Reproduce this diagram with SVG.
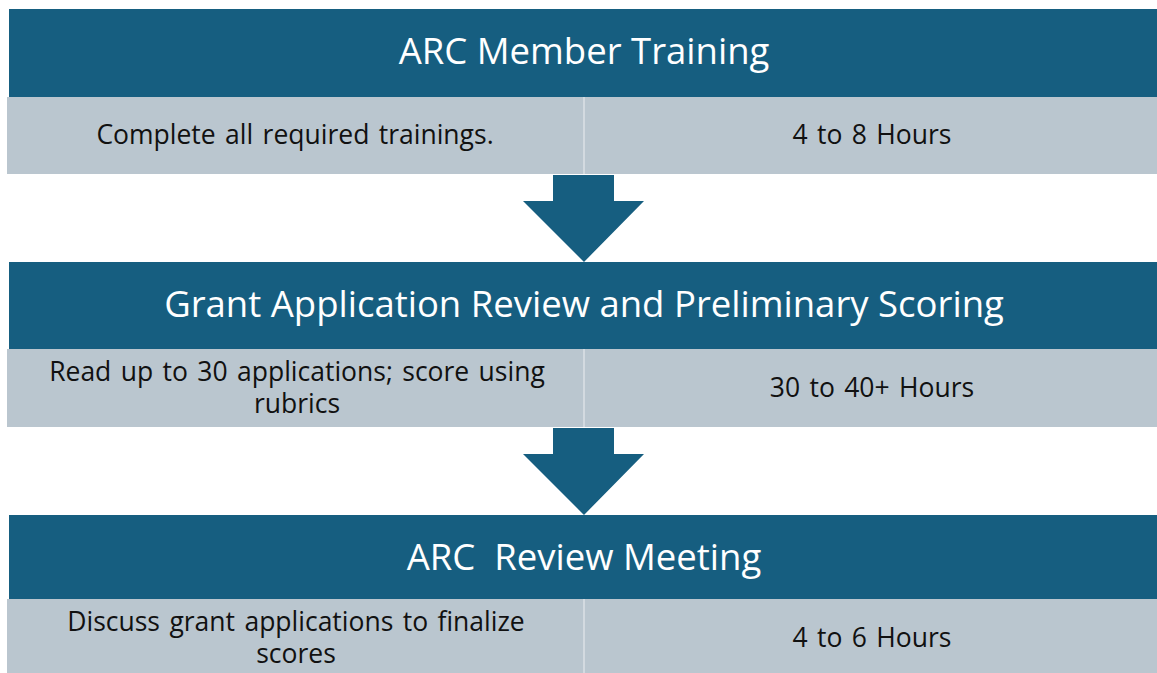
<svg xmlns="http://www.w3.org/2000/svg" width="1157" height="673" viewBox="0 0 1157 673">
<style>
.hdr{fill:#165E80}
.row{fill:#BAC6CF}
.div{stroke:#D3DAE0;stroke-width:2}
.arrow{fill:#165E80}
.ht{font-family:"Open Sans","Noto Sans",sans-serif;font-size:36.5px;fill:#FFFFFF;text-anchor:middle;white-space:pre}
.rt{font-family:"Open Sans","Noto Sans",sans-serif;font-size:26.5px;fill:#111111;text-anchor:middle;word-spacing:2.5px}
</style>
<rect width="1157" height="673" fill="#FFFFFF"/>
<g id="step1">
<rect class="hdr" x="9" y="9" width="1148" height="88"/>
<text class="ht" x="584" y="64">ARC Member Training</text>
<rect class="row" x="7" y="97" width="1150" height="77"/>
<line class="div" x1="584" y1="97" x2="584" y2="174"/>
<text class="rt" x="295" y="144">Complete all required trainings.</text>
<text class="rt" x="872" y="144">4 to 8 Hours</text>
</g>
<g id="step2">
<rect class="hdr" x="9" y="262" width="1148" height="87"/>
<text class="ht" x="584" y="317">Grant Application Review and Preliminary Scoring</text>
<rect class="row" x="7" y="349" width="1150" height="78"/>
<line class="div" x1="584" y1="349" x2="584" y2="427"/>
<text class="rt" x="297" y="381"><tspan x="297" y="381">Read up to 30 applications; score using</tspan><tspan x="297" y="413">rubrics</tspan></text>
<text class="rt" x="872" y="397">30 to 40+ Hours</text>
</g>
<g id="step3">
<rect class="hdr" x="9" y="515" width="1148" height="84"/>
<text class="ht" x="584" y="570">ARC  Review Meeting</text>
<rect class="row" x="7" y="599" width="1150" height="74"/>
<line class="div" x1="584" y1="599" x2="584" y2="673"/>
<text class="rt" x="296" y="631"><tspan x="296" y="631">Discuss grant applications to finalize</tspan><tspan x="296" y="663">scores</tspan></text>
<text class="rt" x="872" y="647">4 to 6 Hours</text>
</g>
<g id="connectors">
<polygon class="arrow" points="553,175 614,175 614,201 644,201 584,262 523,201 553,201"/>
<polygon class="arrow" points="553,428 614,428 614,454 644,454 584,515 523,454 553,454"/>
</g>
</svg>
